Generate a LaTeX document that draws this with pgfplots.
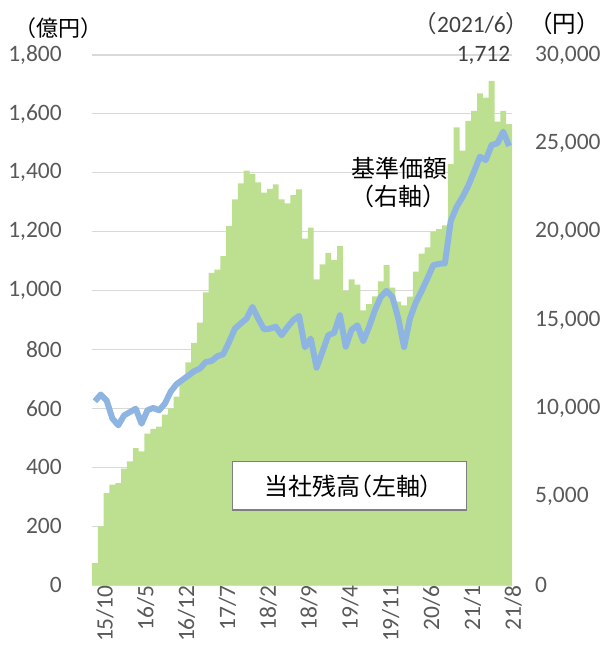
\documentclass[border=0pt]{standalone}
\usepackage{fontspec}
\setmainfont{Carlito}
\newfontfamily\cjk{Noto Sans CJK JP}
\newfontfamily\cjkp[RawFeature=+palt]{Noto Sans CJK JP}
\usepackage{pgfplots}
\pgfplotsset{compat=1.18}
\usepackage{pgfplotstable}
\definecolor{barg}{RGB}{188,224,144}
\definecolor{lineb}{RGB}{142,180,226}
\definecolor{tickgray}{RGB}{89,89,89}
\definecolor{gridgray}{RGB}{217,217,217}
\definecolor{boxgray}{RGB}{127,127,127}

\pgfplotstableread{
k bal nav
0 74 10400
1 199 10780
2 312 10450
3 341 9420
4 346 9040
5 395 9600
6 420 9790
7 465 9980
8 454 9130
9 514 9890
10 530 10020
11 538 9890
12 579 10270
13 600 10950
14 640 11370
15 690 11610
16 756 11850
17 822 12100
18 891 12250
19 994 12620
20 1060 12680
21 1071 12950
22 1117 13060
23 1220 13760
24 1310 14510
25 1364 14800
26 1407 15080
27 1396 15740
28 1367 15080
29 1333 14470
30 1345 14510
31 1361 14620
32 1310 14140
33 1296 14590
34 1324 14990
35 1344 15230
36 1176 13450
37 1214 13950
38 1038 12300
39 1089 13200
40 1128 14140
41 1104 14270
42 1152 15270
43 999 13490
44 1038 14450
45 1020 14700
46 933 13800
47 954 14610
48 980 15550
49 1031 16300
50 1086 16650
51 1010 16300
52 962 15100
53 950 13470
54 979 15080
55 1064 15980
56 1125 16640
57 1147 17350
58 1200 18100
59 1209 18180
60 1221 18210
61 1429 20600
62 1554 21400
63 1475 21950
64 1576 22600
65 1610 23400
66 1670 24240
67 1655 24050
68 1712 24900
69 1574 25000
70 1610 25660
71 1565 24850
}\data

\pgfplotsset{
  common/.style={
    scale only axis, width=420pt, height=530pt,
    xmin=-0.5, xmax=71.5, ymin=0,
    axis line style={-},
    major tick length=0pt,
    tick label style={font=\fontsize{23.5}{28}\selectfont, text=tickgray},
    /pgf/number format/assume math mode=true,
    /pgf/number format/1000 sep={,},
    scaled y ticks=false,
  }
}

\begin{document}
\begin{tikzpicture}
\begin{axis}[
  common, ymax=1800,
  xtick={0,7,...,70},
  xticklabels={15/10,16/5,16/12,17/7,18/2,18/9,19/4,19/11,20/6,21/1,21/8},
  ytick={0,200,...,1800},
  ymajorgrids, grid style={gridgray, line width=1.2pt},
  axis x line*=bottom, axis y line*=left,
  x axis line style={gridgray, line width=1.2pt},
  y axis line style={draw=none},
  xticklabel style={rotate=90, anchor=east, inner sep=0pt, yshift=-10pt},
  yticklabel style={anchor=east, inner sep=0pt, xshift=-30pt},
]
\addplot[ybar, bar width=1, bar shift=0pt, fill=barg, draw=none] table[x=k,y=bal]{\data};
\coordinate (O) at (rel axis cs:0,0);
\end{axis}
\begin{axis}[
  common, ymax=30000,
  axis x line=none, axis y line*=right,
  y axis line style={draw=none},
  ytick={0,5000,...,30000},
  yticklabel style={anchor=west, inner sep=0pt, xshift=23pt},
]
\addplot[lineb, line width=6pt, line join=round, no marks] table[x=k,y=nav]{\data};
\end{axis}
\begin{scope}[shift={(O)}, x=1pt, y=1pt, xshift=-92pt, yshift=-71pt]
\node[font=\cjk\fontsize{22}{26}\selectfont, inner sep=0pt] at (59,628) {（億円）};
\node[font=\fontsize{23.5}{28}\selectfont, inner sep=0pt, anchor=east, text=black!75] at (600,632) {{\cjk （}2021/6{\cjk ）}{\cjk\color{black}（円）}};
\node[font=\fontsize{23.5}{28}\selectfont, inner sep=0pt, text=black!75] at (483.5,601) {1,712};
\node[font=\cjk\fontsize{24}{28}\selectfont, inner sep=0pt] at (399.5,488) {基準価額};
\node[font=\cjk\fontsize{24}{28}\selectfont, inner sep=0pt] at (398,460) {（右軸）};
\draw[boxgray, line width=1.3pt, fill=white] (232.3,146) rectangle (466.7,194.3);
\node[font=\cjkp\fontsize{24}{28}\selectfont, inner sep=0pt] at (348,170) {当社残高（左軸）};
\pgfresetboundingbox
\useasboundingbox (0,0) rectangle (602,656);
\end{scope}
\end{tikzpicture}
\end{document}
